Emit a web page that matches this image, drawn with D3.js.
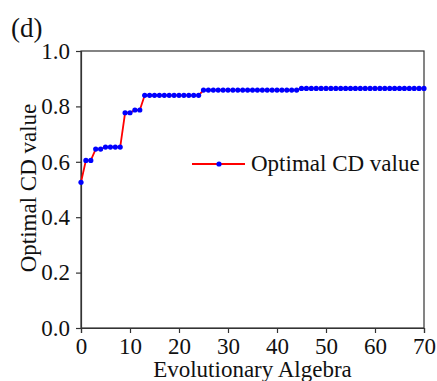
<!DOCTYPE html>
<html>
<head>
<meta charset="utf-8">
<script src="https://cdn.jsdelivr.net/npm/d3@7"></script>
<style>
  body { margin: 0; background: #fff; }
  svg { display: block; }
</style>
</head>
<body>
<svg id="chart"></svg>
<script>
// generations 0..70 and best CD value found so far
const generations = d3.range(0, 71);
const cdValues = [
  0.526, 0.605, 0.605, 0.646, 0.646, 0.653, 0.653, 0.653, 0.653, 0.777,
  0.777, 0.787, 0.787, 0.840, 0.840, 0.840, 0.840, 0.840, 0.840, 0.840,
  0.840, 0.840, 0.840, 0.840, 0.840, 0.859, 0.859, 0.859, 0.859, 0.859,
  0.859, 0.859, 0.859, 0.859, 0.859, 0.859, 0.859, 0.859, 0.859, 0.859,
  0.859, 0.859, 0.859, 0.859, 0.859, 0.865, 0.865, 0.865, 0.865, 0.865,
  0.865, 0.865, 0.865, 0.865, 0.865, 0.865, 0.865, 0.865, 0.865, 0.865,
  0.865, 0.865, 0.865, 0.865, 0.865, 0.865, 0.865, 0.865, 0.865, 0.865,
  0.865
];
const xTicks = [0, 10, 20, 30, 40, 50, 60, 70];
const yTicks = [0, 0.2, 0.4, 0.6, 0.8, 1.0];

const W = 437, H = 381;
const margin = { top: 51, right: 13, bottom: 53, left: 81 };
const width = W - margin.left - margin.right;
const height = H - margin.top - margin.bottom;
const serif = 'Liberation Serif, Times New Roman, Times, Tinos, Nimbus Roman, Noto Serif, FreeSerif, DejaVu Serif, serif';

const svg = d3.select('#chart')
  .attr('width', W)
  .attr('height', H)
  .style('font-family', serif);

const chart = svg.append('g')
  .attr('transform', `translate(${margin.left}, ${margin.top})`);

const x = d3.scaleLinear().domain([0, 70]).range([0, width]);
const y = d3.scaleLinear().domain([0, 1]).range([height, 0]);

const data = generations.map((g, i) => ({ g, v: cdValues[i] }));

// frame
chart.append('rect')
  .attr('width', width)
  .attr('height', height)
  .attr('fill', 'none')
  .attr('stroke', '#333')
  .attr('stroke-width', 1.2);

const xAxis = chart.append('g')
  .attr('transform', `translate(0, ${height})`)
  .call(d3.axisBottom(x).tickValues(xTicks).tickSize(5).tickPadding(5).tickFormat(d3.format('d')));

const yAxis = chart.append('g')
  .call(d3.axisLeft(y).tickValues(yTicks).tickSize(5).tickPadding(6).tickFormat(d3.format('.1f')));

[xAxis, yAxis].forEach(a => {
  a.attr('font-family', null).attr('font-size', 23);
  a.selectAll('path, line').attr('stroke', '#333').attr('stroke-width', 1.2);
  a.selectAll('text').attr('fill', '#111');
});

// line + markers
chart.append('path')
  .datum(data)
  .attr('fill', 'none')
  .attr('stroke', '#ff0000')
  .attr('stroke-width', 1.8)
  .attr('d', d3.line().x(d => x(d.g)).y(d => y(d.v)));

chart.selectAll('circle.pt')
  .data(data)
  .enter().append('circle')
  .attr('class', 'pt')
  .attr('cx', d => x(d.g))
  .attr('cy', d => y(d.v))
  .attr('r', 2.6)
  .attr('fill', '#0000ff');

// legend
const legend = svg.append('g').attr('transform', 'translate(192, 164)');
legend.append('line')
  .attr('x1', 0).attr('x2', 53)
  .attr('stroke', '#ff0000').attr('stroke-width', 1.8);
legend.append('circle')
  .attr('cx', 27).attr('r', 2.6).attr('fill', '#0000ff');
legend.append('text')
  .attr('x', 59).attr('y', 7)
  .attr('fill', '#111')
  .attr('font-size', 23)
  .text('Optimal CD value');

// axis titles
svg.append('text')
  .attr('x', margin.left + width / 2)
  .attr('y', 377)
  .attr('text-anchor', 'middle')
  .attr('fill', '#111')
  .attr('font-size', 23)
  .text('Evolutionary Algebra');

svg.append('text')
  .attr('transform', 'translate(36, 188) rotate(-90)')
  .attr('text-anchor', 'middle')
  .attr('fill', '#111')
  .attr('font-size', 23)
  .text('Optimal CD value');

svg.append('text')
  .attr('x', 11)
  .attr('y', 37)
  .attr('fill', '#111')
  .attr('font-size', 27)
  .text('(d)');
</script>
</body>
</html>
